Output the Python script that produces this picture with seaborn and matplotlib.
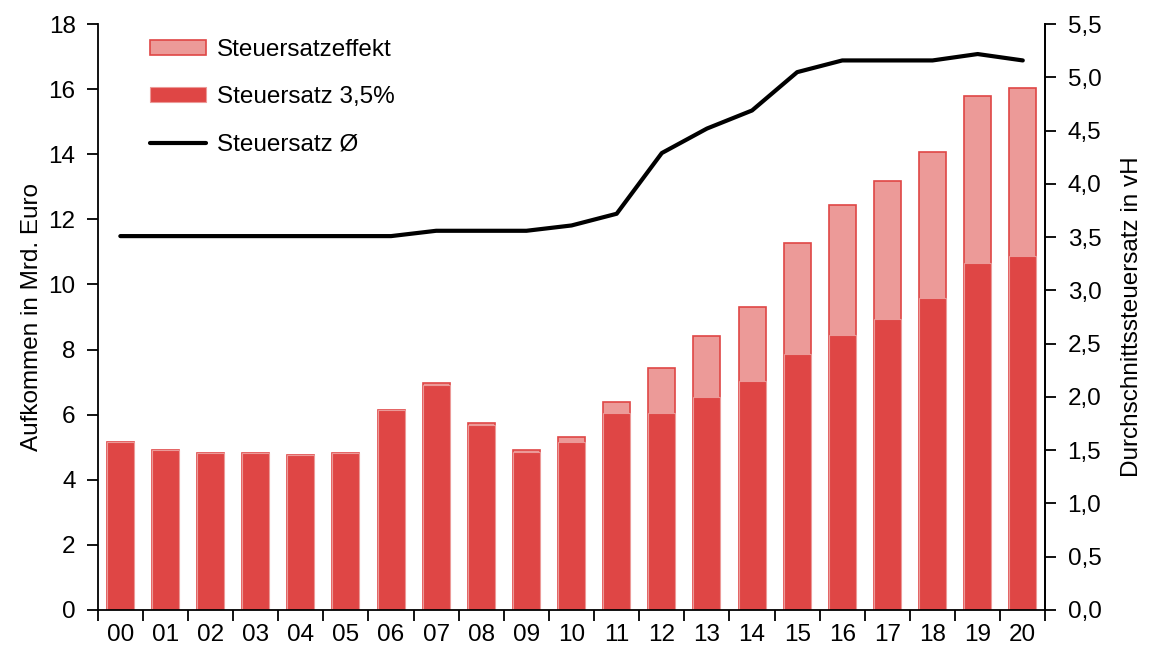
import numpy as np
import pandas as pd
import matplotlib
matplotlib.use("Agg")
import matplotlib.pyplot as plt
import seaborn as sns
from matplotlib.patches import Patch
from matplotlib.lines import Line2D

# =========================================
# DATA
# =========================================
years = ["00", "01", "02", "03", "04", "05", "06", "07", "08", "09", "10",
         "11", "12", "13", "14", "15", "16", "17", "18", "19", "20"]
# Aufkommen at 3.5 % rate (Mrd. Euro)
base_35 = [5.15, 4.91, 4.83, 4.83, 4.75, 4.83, 6.14, 6.90, 5.67, 4.84, 5.17,
           6.06, 6.06, 6.55, 7.04, 7.86, 8.45, 8.94, 9.59, 10.65, 10.89]
# total Aufkommen (base + Steuersatzeffekt)
total = [5.15, 4.91, 4.83, 4.83, 4.75, 4.83, 6.14, 6.96, 5.73, 4.91, 5.32,
         6.38, 7.43, 8.42, 9.32, 11.29, 12.44, 13.17, 14.07, 15.79, 16.04]
# average tax rate in vH
avg_rate = [3.51, 3.51, 3.51, 3.51, 3.51, 3.51, 3.51, 3.56, 3.56, 3.56, 3.61,
            3.72, 4.29, 4.52, 4.69, 5.05, 5.16, 5.16, 5.16, 5.22, 5.16]

left_ticks = [0, 2, 4, 6, 8, 10, 12, 14, 16, 18]
right_ticks = [0.0, 0.5, 1.0, 1.5, 2.0, 2.5, 3.0, 3.5, 4.0, 4.5, 5.0, 5.5]
right_labels = ["0,0", "0,5", "1,0", "1,5", "2,0", "2,5", "3,0", "3,5",
                "4,0", "4,5", "5,0", "5,5"]

dark_red = "#DF4645"
light_red = "#EC9A98"
FS = 17.5

df = pd.DataFrame({"Jahr": years, "base": base_35, "total": total})

# =========================================
# PLOT
# =========================================
sns.set_style("white")
plt.rcParams["font.family"] = ["Liberation Sans", "DejaVu Sans"]
plt.rcParams["font.size"] = FS
plt.rcParams["text.color"] = "black"
plt.rcParams["axes.labelcolor"] = "black"
plt.rcParams["xtick.color"] = "black"
plt.rcParams["ytick.color"] = "black"

fig = plt.figure(figsize=(11.5, 6.55), dpi=100)
ax = fig.add_axes([0.085, 0.069, 0.824, 0.894])

sns.barplot(data=df, x="Jahr", y="total", color=light_red, saturation=1,
            width=0.6, edgecolor=dark_red, linewidth=1.2, ax=ax)
sns.barplot(data=df, x="Jahr", y="base", color=dark_red, saturation=1,
            width=0.6, edgecolor=light_red, linewidth=0.8, ax=ax)

ax.set_xlim(-0.5, len(years) - 0.5)
ax.set_ylim(0, 18)
ax.set_yticks(left_ticks)
ax.set_xlabel("")
ax.set_ylabel("Aufkommen in Mrd. Euro", fontsize=FS, labelpad=4)

# boundary ticks on x axis, labels centred
ax.set_xticks(np.arange(len(years)))
ax.set_xticklabels(years)
ax.set_xticks(np.arange(len(years) + 1) - 0.5, minor=True)
ax.tick_params(axis="x", which="major", length=0, pad=10, labelsize=FS)
ax.tick_params(axis="x", which="minor", length=8, width=1.3, direction="out", bottom=True)
ax.tick_params(axis="y", length=8, width=1.3, direction="out", left=True,
               labelsize=FS, pad=8)

for side in ["left", "bottom", "right"]:
    ax.spines[side].set_color("black")
    ax.spines[side].set_linewidth(1.3)
ax.spines["top"].set_visible(False)

ax2 = ax.twinx()
sns.lineplot(x=np.arange(len(years)), y=avg_rate, color="black", linewidth=3,
             ax=ax2)
ax2.set_ylim(0, 5.5)
ax2.set_yticks(right_ticks)
ax2.set_yticklabels(right_labels)
ax2.set_ylabel("Durchschnittssteuersatz in vH", fontsize=FS, labelpad=14)
ax2.tick_params(axis="y", length=8, width=1.3, direction="out", right=True,
                labelsize=FS, pad=8)
ax2.spines["top"].set_visible(False)
ax2.spines["right"].set_color("black")
ax2.spines["right"].set_linewidth(1.3)
ax2.spines["left"].set_visible(False)
ax2.spines["bottom"].set_visible(False)

handles = [
    Patch(facecolor=light_red, edgecolor=dark_red, linewidth=1.2),
    Patch(facecolor=dark_red, edgecolor=light_red, linewidth=0.8),
    Line2D([0], [0], color="black", linewidth=3),
]
labels = ["Steuersatzeffekt", "Steuersatz 3,5%", "Steuersatz Ø"]
ax.legend(handles, labels, loc="upper left", bbox_to_anchor=(0.055, 0.975),
          frameon=False, fontsize=FS, handlelength=2.3, handleheight=0.55,
          labelspacing=1.05, handletextpad=0.45, borderpad=0, borderaxespad=0)

plt.savefig("out.png", dpi=100)
